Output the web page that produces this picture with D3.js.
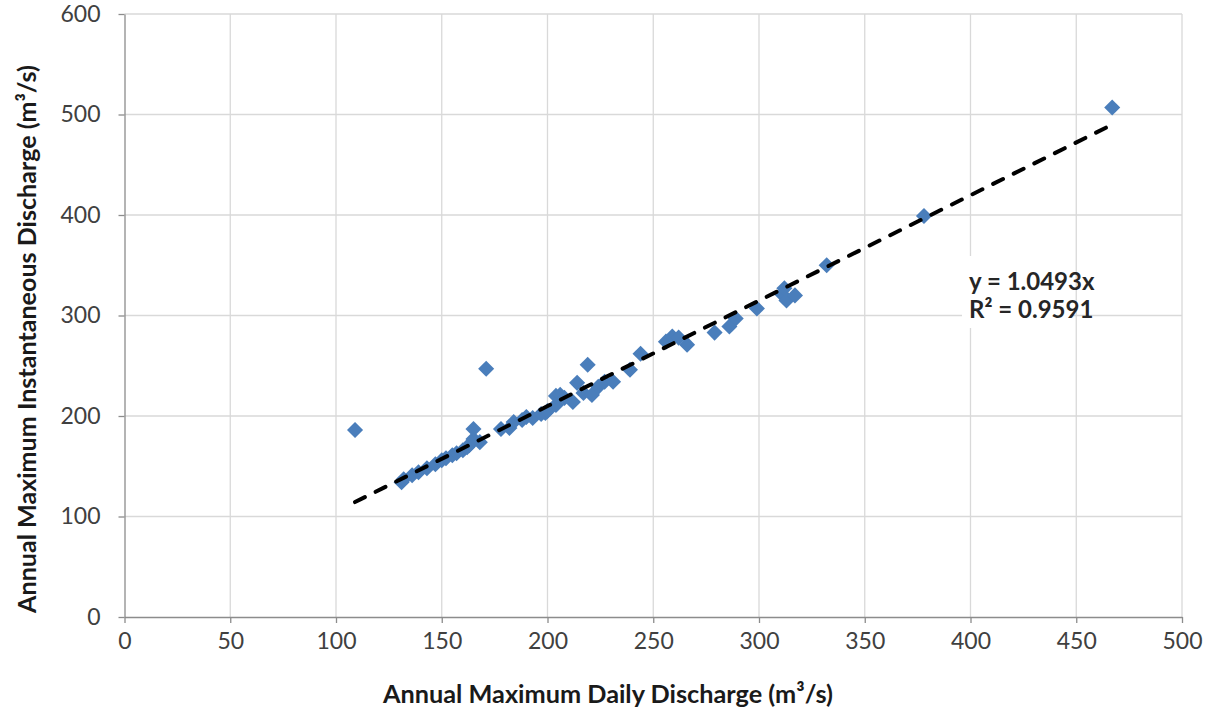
<!DOCTYPE html>
<html>
<head>
<meta charset="utf-8">
<script src="https://cdn.jsdelivr.net/npm/d3@7"></script>
<style>
  body { margin: 0; background: #fff; }
  svg { display: block; font-family: Lato, "Open Sans", sans-serif; }
</style>
</head>
<body>
<div id="chart"></div>
<script>
// Annual max daily discharge (x) vs annual max instantaneous discharge (y), m3/s
const dailyQ = [109, 131, 132, 136, 139, 143, 147, 150, 152, 155, 157, 160, 162, 163, 165, 165,
  168, 171, 178, 182, 184, 188, 190, 193, 197, 199, 200, 204, 204, 206, 208, 212, 214, 217, 219,
  221, 224, 227, 231, 239, 244, 256, 259, 262, 266, 279, 286, 289, 299, 311, 312, 313, 317, 332, 378, 467];
const instQ = [186, 134, 137, 141, 144, 148, 152, 156, 158, 161, 163, 166, 169, 171, 177, 187,
  174, 247, 187, 188, 194, 196, 199, 198, 202, 203, 205, 211, 220, 221, 218, 214, 233, 223, 251,
  221, 229, 234, 234, 246, 262, 274, 279, 278, 271, 283, 289, 297, 307, 321, 327, 315, 320, 350, 399, 507];
const xTicks = [0, 50, 100, 150, 200, 250, 300, 350, 400, 450, 500];
const yTicks = [0, 100, 200, 300, 400, 500, 600];
const slope = 1.0493;
const trendRange = [109, 467];
const eqLines = ["y = 1.0493x", "R² = 0.9591"];

const width = 1209, height = 717;
const margin = { top: 14, right: 27, bottom: 100, left: 124.5 };

const svg = d3.select("#chart").append("svg").attr("width", width).attr("height", height);

const x = d3.scaleLinear().domain([0, 500]).range([margin.left, width - margin.right]);
const y = d3.scaleLinear().domain([0, 600]).range([height - margin.bottom, margin.top]);

// grow a text element's font so it spans a given width
function fitWidth(sel, target, start) {
  sel.style("font-size", start + "px");
  const w = sel.node().getComputedTextLength();
  sel.style("font-size", (start * target / w).toFixed(2) + "px");
}

// gridlines
svg.append("g")
  .selectAll("line")
  .data(xTicks.slice(1))
  .enter().append("line")
  .attr("x1", d => x(d)).attr("x2", d => x(d))
  .attr("y1", y(0)).attr("y2", y(600))
  .attr("stroke", "#d9d9d9").attr("stroke-width", 1.3);

svg.append("g")
  .selectAll("line")
  .data(yTicks.slice(1))
  .enter().append("line")
  .attr("x1", x(0)).attr("x2", x(500))
  .attr("y1", d => y(d)).attr("y2", d => y(d))
  .attr("stroke", "#d9d9d9").attr("stroke-width", 1.3);

// axes
const xAxis = svg.append("g")
  .attr("transform", `translate(0,${y(0)})`)
  .call(d3.axisBottom(x).tickValues(xTicks).tickSize(6).tickPadding(10).tickSizeOuter(0));
const yAxis = svg.append("g")
  .attr("transform", `translate(${x(0)},0)`)
  .call(d3.axisLeft(y).tickValues(yTicks).tickSize(6).tickPadding(18).tickSizeOuter(0));

[xAxis, yAxis].forEach(a => {
  a.select(".domain").attr("stroke", "#8c8c8c").attr("stroke-width", 1.3);
  a.selectAll(".tick line").attr("stroke", "#8c8c8c").attr("stroke-width", 1.3);
  a.selectAll(".tick text").attr("fill", "#404040").style("font-size", "23px").style("font-family", "Lato, sans-serif");
});

// equation label box (white background hides gridlines)
const eqX = 962, eqY = 256;
svg.append("rect").attr("x", eqX).attr("y", eqY).attr("width", 108).attr("height", 72).attr("fill", "#fff");
svg.append("g")
  .selectAll("text")
  .data(eqLines)
  .enter().append("text")
  .attr("x", eqX + 7)
  .attr("y", (d, i) => eqY + 34 + i * 28)
  .attr("fill", "#262626")
  .style("font-weight", "bold")
  .style("font-size", "24px")
  .text(d => d);

// points (diamonds)
const points = dailyQ.map((d, i) => ({ x: d, y: instQ[i] }));
svg.append("g")
  .selectAll("path")
  .data(points)
  .enter().append("path")
  .attr("transform", d => `translate(${x(d.x)},${y(d.y)})`)
  .attr("d", d3.symbol().type(d3.symbolDiamond2).size(165))
  .attr("fill", "#4a7ebb");

// linear trend through origin
svg.append("line")
  .attr("x1", x(trendRange[0])).attr("y1", y(trendRange[0] * slope))
  .attr("x2", x(trendRange[1])).attr("y2", y(trendRange[1] * slope))
  .attr("stroke", "#000")
  .attr("stroke-width", 4)
  .attr("stroke-linecap", "round")
  .attr("stroke-dasharray", "11,12");

// axis titles
const xTitle = svg.append("text")
  .attr("x", 608).attr("y", 703)
  .attr("text-anchor", "middle")
  .attr("fill", "#1a1a1a")
  .style("font-weight", "bold")
  .text("Annual Maximum Daily Discharge (m³/s)");
fitWidth(xTitle, 450, 20);

const yTitle = svg.append("text")
  .attr("transform", "translate(36,339) rotate(-90)")
  .attr("text-anchor", "middle")
  .attr("fill", "#1a1a1a")
  .style("font-weight", "bold")
  .text("Annual Maximum Instantaneous Discharge (m³/s)");
fitWidth(yTitle, 548, 20);
</script>
</body>
</html>
